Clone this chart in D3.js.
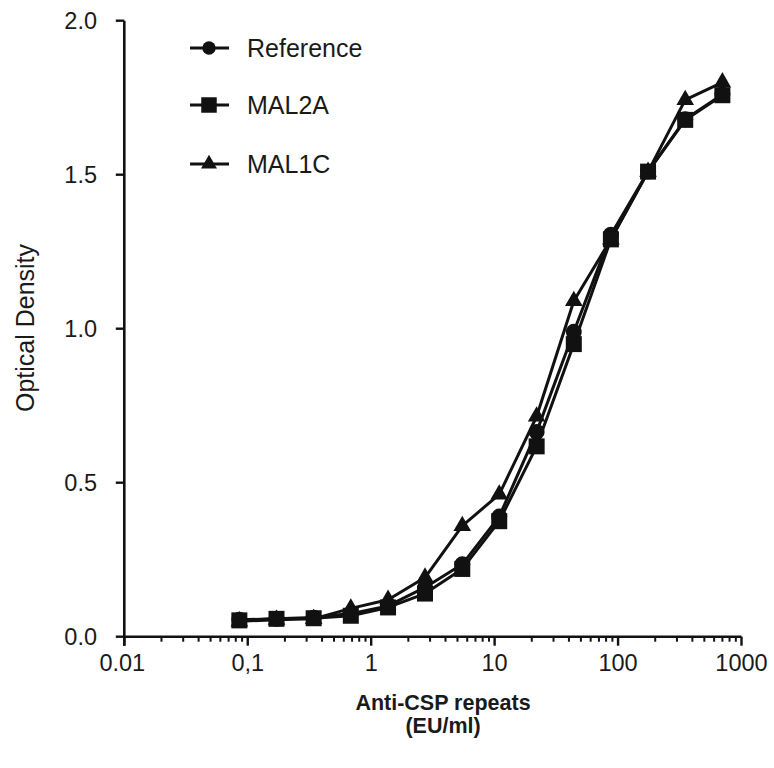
<!DOCTYPE html>
<html><head><meta charset="utf-8">
<script src="https://cdn.jsdelivr.net/npm/d3@7"></script>
<style>body{margin:0;background:#fff}</style>
</head><body>
<script>
const concentrations = [0.0855, 0.171, 0.342, 0.684, 1.37, 2.73, 5.47, 10.9, 21.9, 43.8, 87.5, 175, 350, 700];
const referenceOD = [0.055, 0.058, 0.062, 0.075, 0.100, 0.160, 0.235, 0.390, 0.665, 0.990, 1.305, 1.510, 1.680, 1.760];
const mal2aOD     = [0.053, 0.058, 0.060, 0.068, 0.095, 0.140, 0.220, 0.375, 0.618, 0.950, 1.290, 1.510, 1.678, 1.758];
const mal1cOD     = [0.050, 0.055, 0.058, 0.092, 0.120, 0.192, 0.360, 0.462, 0.715, 1.090, 1.290, 1.510, 1.743, 1.800];
const seriesNames = ["Reference", "MAL2A", "MAL1C"];
const xTickValues = [0.01, 0.1, 1, 10, 100, 1000];
const xTickLabels = ["0.01", "0,1", "1", "10", "100", "1000"];
const yTickValues = [0, 0.5, 1.0, 1.5, 2.0];

const W = 774, H = 768;
const ink = "#111";
const txt = "#1a1a1a";
const svg = d3.select("body").append("svg").attr("width", W).attr("height", H);

const x = d3.scaleLog().domain([0.01, 1000]).range([124.3, 741.5]);
const y = d3.scaleLinear().domain([0, 2]).range([636.7, 20.7]);

const font = "Liberation Sans, Arial, Helvetica, sans-serif";

// x axis
const gx = svg.append("g");
gx.append("line").attr("x1", x(0.01)).attr("x2", x(1000)).attr("y1", y(0)).attr("y2", y(0))
  .attr("stroke", ink).attr("stroke-width", 2.6);
const minor = [];
for (let d = -2; d < 3; d++) for (let m = 2; m <= 9; m++) minor.push(m * Math.pow(10, d));
gx.selectAll(".minor").data(minor).enter().append("line")
  .attr("x1", d => x(d)).attr("x2", d => x(d)).attr("y1", y(0)).attr("y2", y(0) + 5)
  .attr("stroke", ink).attr("stroke-width", 2);
gx.selectAll(".major").data(xTickValues).enter().append("line")
  .attr("x1", d => x(d)).attr("x2", d => x(d)).attr("y1", y(0)).attr("y2", y(0) + 9)
  .attr("stroke", ink).attr("stroke-width", 2.4);
gx.selectAll(".lbl").data(xTickValues).enter().append("text")
  .attr("x", (d) => x(d) - (d === 0.01 ? 2 : 0)).attr("y", 671)
  .attr("text-anchor", "middle").attr("font-family", font).attr("font-size", 23.5).attr("fill", txt)
  .text((d, i) => xTickLabels[i]);

// y axis
const gy = svg.append("g");
gy.append("line").attr("x1", x(0.01)).attr("x2", x(0.01)).attr("y1", y(2)).attr("y2", y(0) + 9)
  .attr("stroke", ink).attr("stroke-width", 2.6);
gy.selectAll(".yt").data(yTickValues).enter().append("line")
  .attr("x1", x(0.01) - 8.5).attr("x2", x(0.01)).attr("y1", d => y(d)).attr("y2", d => y(d))
  .attr("stroke", ink).attr("stroke-width", 2.4);
gy.selectAll(".yl").data(yTickValues).enter().append("text")
  .attr("x", 97).attr("y", d => y(d) + 8.5).attr("text-anchor", "end")
  .attr("font-family", font).attr("font-size", 23.5).attr("fill", txt)
  .text(d => d.toFixed(1));

svg.append("text").attr("transform", "translate(34,328) rotate(-90)")
  .attr("text-anchor", "middle").attr("font-family", font).attr("font-size", 25).attr("fill", txt)
  .text("Optical Density");

svg.append("text").attr("x", 443).attr("y", 710).attr("text-anchor", "middle")
  .attr("font-family", font).attr("font-weight", "bold")
  .attr("font-size", 21.5).attr("fill", txt).text("Anti-CSP repeats");
svg.append("text").attr("x", 443).attr("y", 733).attr("text-anchor", "middle")
  .attr("font-family", font).attr("font-weight", "bold")
  .attr("font-size", 21.5).attr("fill", txt).text("(EU/ml)");

// series
const allData = [referenceOD, mal2aOD, mal1cOD];
const shapes = [d3.symbolCircle, d3.symbolSquare, d3.symbolTriangle];
const sizes = [200, 256, 135];
const line = d3.line().x(d => x(d[0])).y(d => y(d[1]));
const drawOrder = [2, 0, 1];

drawOrder.forEach(si => {
  const pts = concentrations.map((c, i) => [c, allData[si][i]]);
  svg.append("path").attr("d", line(pts)).attr("fill", "none")
    .attr("stroke", ink).attr("stroke-width", 3).attr("stroke-linejoin", "round");
});
drawOrder.forEach(si => {
  const pts = concentrations.map((c, i) => [c, allData[si][i]]);
  svg.selectAll(".m" + si).data(pts).enter().append("path")
    .attr("d", d3.symbol().type(shapes[si]).size(sizes[si]))
    .attr("transform", d => `translate(${x(d[0])},${y(d[1])})`)
    .attr("fill", ink);
});

// legend
const legY = [48, 105, 164];
const legSizes = [140, 240, 110];
seriesNames.forEach((name, si) => {
  const g = svg.append("g").attr("transform", `translate(0,${legY[si]})`);
  g.append("line").attr("x1", 190).attr("x2", 229).attr("y1", 0).attr("y2", 0)
    .attr("stroke", ink).attr("stroke-width", 3);
  g.append("path").attr("d", d3.symbol().type(shapes[si]).size(legSizes[si]))
    .attr("transform", `translate(209,0)`).attr("fill", ink);
  g.append("text").attr("x", 247).attr("y", 9).attr("font-family", font).attr("font-size", 25)
    .attr("fill", txt).text(name);
});
</script>
</body></html>
